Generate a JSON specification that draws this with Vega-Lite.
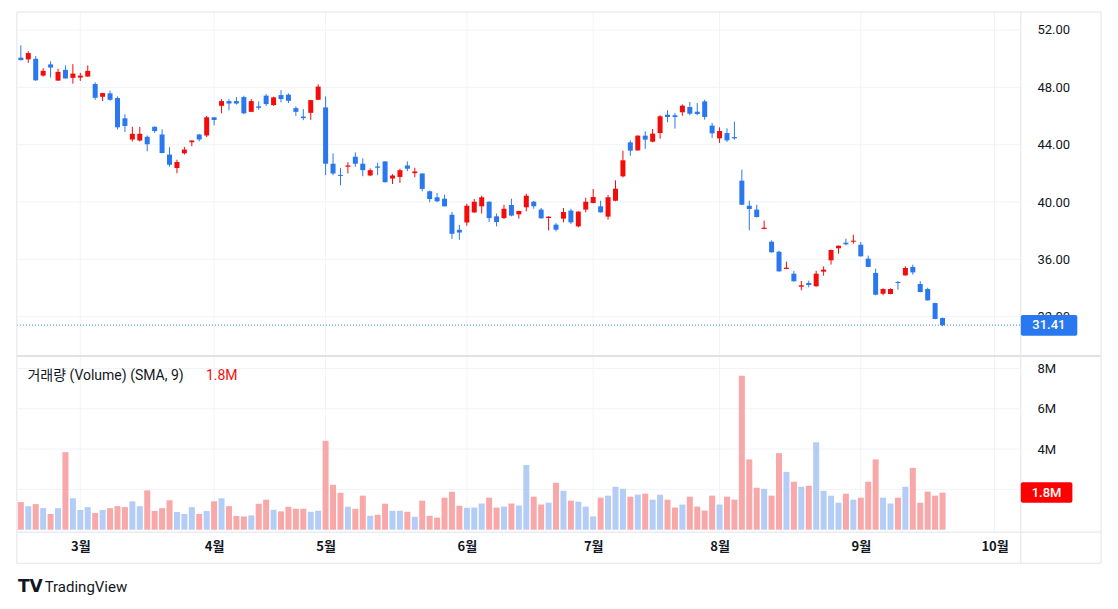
{
"$schema": "https://vega.github.io/schema/vega-lite/v6.json",
"autosize": {"type": "fit", "contains": "padding"},
"width": 1118,
"height": 609,
"padding": 0,
"background": "white",
"config": {
  "view": {"stroke": null},
  "axis": {"grid": false, "domain": false, "ticks": false, "labelFont": "Roboto", "labelFontSize": 13, "labelColor": "#131722"}
},
"datasets": {"k": [
{"i":0,"o":50.07,"h":50.93,"l":49.88,"c":49.9,"v":1.37},
{"i":1,"o":49.95,"h":50.51,"l":49.71,"c":50.39,"v":1.17},
{"i":2,"o":49.99,"h":50.18,"l":48.45,"c":48.49,"v":1.27},
{"i":3,"o":48.82,"h":49.34,"l":48.75,"c":49.15,"v":1.07},
{"i":4,"o":49.6,"h":49.81,"l":48.68,"c":49.38,"v":0.78},
{"i":5,"o":48.47,"h":49.29,"l":48.45,"c":49.08,"v":1.07},
{"i":6,"o":49.22,"h":49.53,"l":48.6,"c":48.62,"v":3.85},
{"i":7,"o":48.66,"h":49.62,"l":48.26,"c":48.96,"v":1.56},
{"i":8,"o":48.68,"h":49.01,"l":48.45,"c":48.82,"v":0.98},
{"i":9,"o":48.75,"h":49.53,"l":48.73,"c":49.15,"v":1.12},
{"i":10,"o":48.23,"h":48.35,"l":47.13,"c":47.27,"v":0.83},
{"i":11,"o":47.34,"h":47.62,"l":47.04,"c":47.6,"v":0.98},
{"i":12,"o":47.58,"h":47.77,"l":47.06,"c":47.13,"v":1.07},
{"i":13,"o":47.25,"h":47.37,"l":45.07,"c":45.21,"v":1.17},
{"i":14,"o":45.84,"h":46.12,"l":44.88,"c":45.3,"v":1.12},
{"i":15,"o":44.36,"h":45.25,"l":44.22,"c":44.76,"v":1.41},
{"i":16,"o":44.29,"h":45.23,"l":44.22,"c":44.76,"v":1.17},
{"i":17,"o":44.55,"h":44.64,"l":43.54,"c":44.03,"v":1.95},
{"i":18,"o":45.25,"h":45.27,"l":44.83,"c":44.95,"v":0.93},
{"i":19,"o":44.71,"h":45.07,"l":43.4,"c":43.42,"v":1.07},
{"i":20,"o":43.31,"h":43.82,"l":42.48,"c":42.6,"v":1.46},
{"i":21,"o":42.37,"h":42.95,"l":42.01,"c":42.79,"v":0.88},
{"i":22,"o":43.4,"h":43.85,"l":43.31,"c":43.66,"v":0.78},
{"i":23,"o":44.17,"h":44.29,"l":43.89,"c":44.29,"v":1.12},
{"i":24,"o":44.71,"h":44.73,"l":44.24,"c":44.36,"v":0.78},
{"i":25,"o":44.64,"h":46.0,"l":44.53,"c":45.91,"v":0.93},
{"i":26,"o":45.91,"h":45.93,"l":45.35,"c":45.72,"v":1.41},
{"i":27,"o":46.71,"h":47.18,"l":46.19,"c":47.04,"v":1.56},
{"i":28,"o":47.04,"h":47.18,"l":46.4,"c":46.87,"v":1.17},
{"i":29,"o":47.04,"h":47.32,"l":46.8,"c":46.87,"v":0.68},
{"i":30,"o":47.32,"h":47.41,"l":46.12,"c":46.19,"v":0.66},
{"i":31,"o":46.29,"h":47.18,"l":46.27,"c":47.04,"v":0.71},
{"i":32,"o":46.67,"h":47.02,"l":46.43,"c":46.57,"v":1.29},
{"i":33,"o":47.42,"h":47.53,"l":46.71,"c":46.83,"v":1.49},
{"i":34,"o":46.76,"h":47.35,"l":46.71,"c":47.3,"v":0.99},
{"i":35,"o":47.46,"h":47.81,"l":46.95,"c":47.18,"v":0.91},
{"i":36,"o":47.49,"h":47.58,"l":46.9,"c":47.06,"v":1.14},
{"i":37,"o":46.55,"h":46.67,"l":46.01,"c":46.29,"v":1.04},
{"i":38,"o":45.96,"h":46.48,"l":45.71,"c":45.85,"v":1.04},
{"i":39,"o":46.22,"h":47.13,"l":45.73,"c":47.11,"v":0.89},
{"i":40,"o":47.13,"h":48.21,"l":47.11,"c":48.05,"v":0.94},
{"i":41,"o":46.6,"h":47.37,"l":41.87,"c":42.67,"v":4.41},
{"i":42,"o":42.67,"h":43.39,"l":41.87,"c":41.99,"v":2.23},
{"i":43,"o":41.89,"h":42.39,"l":41.17,"c":41.82,"v":1.83},
{"i":44,"o":42.46,"h":42.78,"l":41.99,"c":42.55,"v":1.14},
{"i":45,"o":43.16,"h":43.46,"l":42.46,"c":42.67,"v":1.04},
{"i":46,"o":42.67,"h":43.04,"l":41.8,"c":42.22,"v":1.69},
{"i":47,"o":41.85,"h":42.34,"l":41.8,"c":42.22,"v":0.69},
{"i":48,"o":42.48,"h":42.74,"l":41.87,"c":42.39,"v":0.74},
{"i":49,"o":42.83,"h":42.85,"l":41.36,"c":41.38,"v":1.29},
{"i":50,"o":41.64,"h":41.94,"l":41.26,"c":41.85,"v":0.94},
{"i":51,"o":41.75,"h":42.32,"l":41.33,"c":42.22,"v":0.94},
{"i":52,"o":42.55,"h":42.83,"l":42.15,"c":42.32,"v":0.89},
{"i":53,"o":42.01,"h":42.39,"l":41.73,"c":42.13,"v":0.64},
{"i":54,"o":41.99,"h":42.01,"l":40.75,"c":40.91,"v":1.44},
{"i":55,"o":40.75,"h":40.8,"l":39.98,"c":40.21,"v":0.69},
{"i":56,"o":40.33,"h":40.63,"l":39.98,"c":40.05,"v":0.6},
{"i":57,"o":40.23,"h":40.51,"l":39.68,"c":39.7,"v":1.59},
{"i":58,"o":39.11,"h":39.3,"l":37.43,"c":37.78,"v":1.88},
{"i":59,"o":38.06,"h":38.41,"l":37.36,"c":37.87,"v":1.19},
{"i":60,"o":38.57,"h":39.88,"l":38.34,"c":39.74,"v":1.09},
{"i":61,"o":39.27,"h":40.21,"l":39.25,"c":40.02,"v":1.1},
{"i":62,"o":39.7,"h":40.44,"l":39.19,"c":40.33,"v":1.3},
{"i":63,"o":40.02,"h":40.04,"l":38.6,"c":38.88,"v":1.59},
{"i":64,"o":39.0,"h":39.19,"l":38.3,"c":38.6,"v":1.1},
{"i":65,"o":38.88,"h":39.81,"l":38.81,"c":39.53,"v":1.15},
{"i":66,"o":39.79,"h":40.23,"l":39.0,"c":39.05,"v":1.3},
{"i":67,"o":39.14,"h":39.39,"l":38.84,"c":39.37,"v":1.2},
{"i":68,"o":39.63,"h":40.58,"l":39.35,"c":40.44,"v":3.21},
{"i":69,"o":40.02,"h":40.07,"l":39.53,"c":39.7,"v":1.64},
{"i":70,"o":39.47,"h":39.58,"l":38.84,"c":38.86,"v":1.25},
{"i":71,"o":38.88,"h":39.0,"l":38.02,"c":38.98,"v":1.34},
{"i":72,"o":38.42,"h":38.53,"l":37.95,"c":38.07,"v":2.33},
{"i":73,"o":38.84,"h":39.58,"l":38.58,"c":39.3,"v":1.93},
{"i":74,"o":39.4,"h":39.53,"l":38.47,"c":38.58,"v":1.44},
{"i":75,"o":38.3,"h":39.35,"l":38.23,"c":39.33,"v":1.39},
{"i":76,"o":39.47,"h":40.3,"l":39.28,"c":40.02,"v":1.15},
{"i":77,"o":39.93,"h":40.91,"l":39.91,"c":40.35,"v":0.66},
{"i":78,"o":39.7,"h":40.09,"l":39.26,"c":39.28,"v":1.59},
{"i":79,"o":38.98,"h":40.49,"l":38.77,"c":40.33,"v":1.69},
{"i":80,"o":40.09,"h":41.51,"l":40.05,"c":40.93,"v":2.13},
{"i":81,"o":41.79,"h":43.58,"l":41.72,"c":42.91,"v":2.03},
{"i":82,"o":44.16,"h":44.3,"l":43.23,"c":43.58,"v":1.64},
{"i":83,"o":43.6,"h":44.65,"l":43.58,"c":44.63,"v":1.74},
{"i":84,"o":44.63,"h":44.93,"l":43.7,"c":44.35,"v":1.79},
{"i":85,"o":44.21,"h":45.09,"l":44.16,"c":44.77,"v":1.49},
{"i":86,"o":44.81,"h":46.05,"l":44.42,"c":45.98,"v":1.74},
{"i":87,"o":46.09,"h":46.4,"l":45.56,"c":45.93,"v":1.49},
{"i":88,"o":46.05,"h":46.21,"l":45.12,"c":45.93,"v":1.1},
{"i":89,"o":46.26,"h":46.81,"l":46.02,"c":46.72,"v":1.25},
{"i":90,"o":46.63,"h":46.98,"l":46.05,"c":46.16,"v":1.64},
{"i":91,"o":46.3,"h":46.91,"l":46.05,"c":46.14,"v":1.15},
{"i":92,"o":47.02,"h":47.14,"l":45.74,"c":45.93,"v":0.95},
{"i":93,"o":45.33,"h":45.51,"l":44.47,"c":44.79,"v":1.69},
{"i":94,"o":44.44,"h":45.21,"l":44.12,"c":44.95,"v":1.25},
{"i":95,"o":44.81,"h":45.14,"l":44.19,"c":44.3,"v":1.64},
{"i":96,"o":44.53,"h":45.6,"l":44.35,"c":44.44,"v":1.49},
{"i":97,"o":41.49,"h":42.26,"l":39.79,"c":39.81,"v":7.64},
{"i":98,"o":39.74,"h":40.09,"l":38.02,"c":39.51,"v":3.49},
{"i":99,"o":39.47,"h":39.81,"l":38.93,"c":38.95,"v":2.08},
{"i":100,"o":38.12,"h":38.7,"l":38.1,"c":38.21,"v":2.03},
{"i":101,"o":37.23,"h":37.33,"l":36.47,"c":36.49,"v":1.69},
{"i":102,"o":36.53,"h":36.6,"l":35.14,"c":35.16,"v":3.8},
{"i":103,"o":35.33,"h":35.84,"l":35.31,"c":35.42,"v":2.87},
{"i":104,"o":35.0,"h":35.19,"l":34.45,"c":34.47,"v":2.38},
{"i":105,"o":34.09,"h":34.49,"l":33.84,"c":34.19,"v":2.13},
{"i":106,"o":34.35,"h":34.51,"l":34.05,"c":34.21,"v":2.18},
{"i":107,"o":34.12,"h":35.21,"l":34.1,"c":35.0,"v":4.34},
{"i":108,"o":35.14,"h":35.51,"l":34.86,"c":35.28,"v":1.93},
{"i":109,"o":35.93,"h":36.67,"l":35.63,"c":36.65,"v":1.69},
{"i":110,"o":36.77,"h":36.97,"l":36.4,"c":36.95,"v":1.34},
{"i":111,"o":37.16,"h":37.44,"l":36.98,"c":37.05,"v":1.79},
{"i":112,"o":37.23,"h":37.72,"l":37.09,"c":37.3,"v":1.49},
{"i":113,"o":37.02,"h":37.21,"l":36.19,"c":36.21,"v":1.59},
{"i":114,"o":36.05,"h":36.26,"l":35.45,"c":35.47,"v":2.38},
{"i":115,"o":35.05,"h":35.35,"l":33.49,"c":33.53,"v":3.49},
{"i":116,"o":33.6,"h":33.98,"l":33.49,"c":33.93,"v":1.59},
{"i":117,"o":33.58,"h":33.98,"l":33.56,"c":33.93,"v":1.3},
{"i":118,"o":34.42,"h":34.49,"l":33.88,"c":34.35,"v":1.59},
{"i":119,"o":34.88,"h":35.51,"l":34.86,"c":35.4,"v":2.13},
{"i":120,"o":35.47,"h":35.63,"l":34.93,"c":35.09,"v":3.07},
{"i":121,"o":34.28,"h":34.47,"l":33.7,"c":33.72,"v":1.34},
{"i":122,"o":33.93,"h":34.02,"l":33.12,"c":33.14,"v":1.89},
{"i":123,"o":32.95,"h":32.97,"l":31.82,"c":31.84,"v":1.69},
{"i":124,"o":31.91,"h":31.93,"l":31.33,"c":31.41,"v":1.84}
]},
"layer": [
 {
  "layer": [
   {
    "data": {"values": [{"g": 32}, {"g": 36}, {"g": 40}, {"g": 44}, {"g": 48}, {"g": 52}]},
    "mark": {"type": "rule", "color": "#f0f3fa"},
    "encoding": {
      "y": {"field": "g", "type": "quantitative", "title": null},
      "x": {"datum": -0.533}, "x2": {"datum": 134.533}
    }
   },
   {
    "data": {"values": [{"m": 8}, {"m": 26}, {"m": 41}, {"m": 60}, {"m": 77}, {"m": 94}, {"m": 113}, {"m": 131}]},
    "mark": {"type": "rule", "color": "#f0f3fa"},
    "encoding": {
      "x": {"field": "m", "type": "quantitative", "title": null},
      "y": {"datum": 53.256}, "y2": {"datum": 16.97}
    }
   },
   {
    "data": {"name": "k"},
    "mark": {"type": "rule", "strokeWidth": 1},
    "encoding": {
      "x": {"field": "i", "type": "quantitative", "title": null,
            "scale": {"domain": [-2.1333, 146.9333], "nice": false, "zero": false},
            "axis": {"orient": "bottom", "offset": -77, "values": [8, 26, 41, 60, 77, 94, 113, 131], "title": null, "labelPadding": 8,
                     "labelFont": "Noto Sans CJK KR", "labelFontWeight": "bold", "labelFontSize": 13, "labelFlush": false,
                     "labelExpr": "datum.value == 8 ? '3월' : datum.value == 26 ? '4월' : datum.value == 41 ? '5월' : datum.value == 60 ? '6월' : datum.value == 77 ? '7월' : datum.value == 94 ? '8월' : datum.value == 113 ? '9월' : '10월'"}},
      "y": {"field": "l", "type": "quantitative", "title": null,
            "scale": {"domain": [11.605, 54.093], "nice": false, "zero": false},
            "axis": {"orient": "right", "offset": -93, "values": [32, 36, 40, 44, 48, 52], "format": ".2f", "title": null, "labelPadding": 12}},
      "y2": {"field": "h"},
      "color": {"condition": {"test": "datum.c >= datum.o", "value": "#f20c0c"}, "value": "#2a78ef"}
    }
   },
   {
    "data": {"name": "k"},
    "mark": {"type": "bar", "size": 5},
    "encoding": {
      "x": {"field": "i", "type": "quantitative", "title": null},
      "y": {"field": "o", "type": "quantitative", "title": null},
      "y2": {"field": "c"},
      "color": {"condition": {"test": "datum.c >= datum.o", "value": "#f20c0c"}, "value": "#2a78ef"}
    }
   },
   {
    "data": {"values": [{}]},
    "mark": {"type": "rule", "color": "#2a78ef", "strokeDash": [1, 2], "strokeWidth": 1},
    "encoding": {"y": {"datum": 31.41}, "x": {"datum": -0.533}, "x2": {"datum": 134.533}}
   },
   {
    "data": {"values": [{}]},
    "mark": {"type": "rule", "color": "#e0e3eb"},
    "encoding": {"y": {"datum": 53.256}, "x": {"datum": -0.533}, "x2": {"datum": 145.333}}
   },
   {
    "data": {"values": [{}]},
    "mark": {"type": "rule", "color": "#d6d9e0", "strokeWidth": 1.5},
    "encoding": {"y": {"datum": 29.25}, "x": {"datum": -0.533}, "x2": {"datum": 145.333}}
   },
   {
    "data": {"values": [{}]},
    "mark": {"type": "rule", "color": "#e0e3eb"},
    "encoding": {"y": {"datum": 16.97}, "x": {"datum": -0.533}, "x2": {"datum": 145.333}}
   },
   {
    "data": {"values": [{}]},
    "mark": {"type": "rule", "color": "#e0e3eb"},
    "encoding": {"y": {"datum": 14.8}, "x": {"datum": -0.533}, "x2": {"datum": 145.333}}
   },
   {
    "data": {"values": [{}]},
    "mark": {"type": "rule", "color": "#e0e3eb"},
    "encoding": {"x": {"datum": -0.533}, "y": {"datum": 53.256}, "y2": {"datum": 14.8}}
   },
   {
    "data": {"values": [{}]},
    "mark": {"type": "rule", "color": "#e0e3eb"},
    "encoding": {"x": {"datum": 145.333}, "y": {"datum": 53.256}, "y2": {"datum": 14.8}}
   },
   {
    "data": {"values": [{}]},
    "mark": {"type": "rule", "color": "#e0e3eb"},
    "encoding": {"x": {"datum": 134.533}, "y": {"datum": 53.256}, "y2": {"datum": 14.8}}
   },
   {
    "data": {"values": [{}]},
    "mark": {"type": "rect", "color": "#2a78ef", "cornerRadius": 2},
    "encoding": {"x": {"datum": 134.533}, "x2": {"datum": 142.13}, "y": {"datum": 32.11}, "y2": {"datum": 30.67}}
   },
   {
    "data": {"values": [{}]},
    "mark": {"type": "text", "color": "white", "font": "Roboto", "fontSize": 13, "fontWeight": 500, "align": "center", "baseline": "middle", "text": "31.41"},
    "encoding": {"x": {"datum": 138.3}, "y": {"datum": 31.41}}
   },
   {
    "data": {"values": [{}]},
    "mark": {"type": "text", "color": "#131722", "font": "DejaVu Sans", "fontSize": 17, "fontWeight": 900, "align": "left", "baseline": "middle", "text": "TV"},
    "encoding": {"x": {"datum": -0.4}, "y": {"datum": 13.13}}
   },
   {
    "data": {"values": [{}]},
    "mark": {"type": "text", "color": "#131722", "font": "Roboto", "fontSize": 15, "align": "left", "baseline": "middle", "text": "TradingView"},
    "encoding": {"x": {"datum": 3.2}, "y": {"datum": 13.13}}
   }
  ]
 },
 {
  "layer": [
   {
    "data": {"values": [{"g": 2}, {"g": 4}, {"g": 6}, {"g": 8}]},
    "mark": {"type": "rule", "color": "#f0f3fa"},
    "encoding": {
      "y": {"field": "g", "type": "quantitative", "title": null},
      "x": {"datum": -0.533}, "x2": {"datum": 134.533}
    }
   },
   {
    "data": {"name": "k"},
    "mark": {"type": "bar", "size": 6},
    "encoding": {
      "x": {"field": "i", "type": "quantitative", "title": null},
      "y": {"field": "v", "type": "quantitative", "title": null,
            "scale": {"domain": [-3.935, 26.288], "nice": false, "zero": false},
            "axis": {"orient": "right", "offset": -93, "values": [2, 4, 6, 8], "labelExpr": "datum.value + 'M'", "title": null, "labelPadding": 12}},
      "y2": {"datum": 0},
      "color": {"condition": {"test": "datum.c >= datum.o", "value": "#b3cdf6"}, "value": "#f8a8a8"}
    }
   },
   {
    "data": {"values": [{}]},
    "mark": {"type": "text", "color": "#131722", "font": "Roboto, Noto Sans CJK KR", "fontSize": 14, "align": "left", "baseline": "middle", "text": "거래량 (Volume) (SMA, 9)"},
    "encoding": {"x": {"datum": 0.89}, "y": {"datum": 7.63}}
   },
   {
    "data": {"values": [{}]},
    "mark": {"type": "text", "color": "#f70d0d", "font": "Roboto", "fontSize": 14, "align": "left", "baseline": "middle", "text": "1.8M"},
    "encoding": {"x": {"datum": 24.9}, "y": {"datum": 7.63}}
   },
   {
    "data": {"values": [{}]},
    "mark": {"type": "rect", "color": "#ff0000", "cornerRadius": 2},
    "encoding": {"x": {"datum": 134.533}, "x2": {"datum": 141.47}, "y": {"datum": 2.35}, "y2": {"datum": 1.34}}
   },
   {
    "data": {"values": [{}]},
    "mark": {"type": "text", "color": "white", "font": "Roboto", "fontSize": 13, "fontWeight": 500, "align": "center", "baseline": "middle", "text": "1.8M"},
    "encoding": {"x": {"datum": 138.0}, "y": {"datum": 1.84}}
   }
  ]
 }
],
"resolve": {"scale": {"y": "independent"}, "axis": {"y": "independent"}}
}
